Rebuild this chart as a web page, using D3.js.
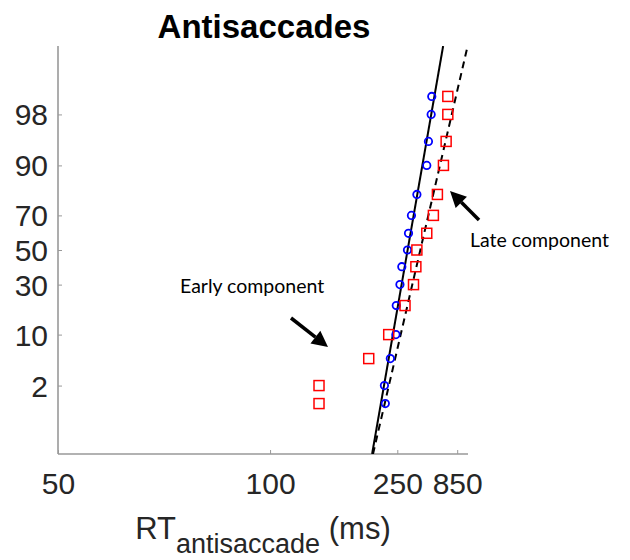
<!DOCTYPE html>
<html>
<head>
<meta charset="utf-8">
<script src="https://cdn.jsdelivr.net/npm/d3@7"></script>
<style>
  body { margin: 0; background: #fff; }
  svg { display: block; }
</style>
</head>
<body>
<div id="chart"></div>
<script>
// reciprobit plot: x is -1/RT, y is probit of cumulative %

const percentiles = [1, 2, 5, 10, 20, 30, 40, 50, 60, 70, 80, 90, 95, 98, 99];
const blueRT = [219, 217, 231, 246, 247, 258, 264, 284, 288, 300, 325, 383, 395, 416, 421];
const redRT  = [130, 130, 187, 227, 275, 309, 320, 325, 383, 435, 474, 548, 589, 618, 618];

// LATER fits: mu and sigma of 1/RT, in 1/s
const fitMu    = [3.514, 2.915];
const fitSigma = [0.542, 0.722];

const xTicks = [50, 100, 250, 850];
const yTicks = [2, 10, 30, 50, 70, 90, 98];

const W = 630, H = 560;
const mLeft = 58, mRight = 468, mTop = 46, mBottom = 454;

// inverse normal cdf (Acklam)
function probit(p) {
  const a = [-3.969683028665376e+01, 2.209460984245205e+02, -2.759285104469687e+02, 1.383577518672690e+02, -3.066479806614716e+01, 2.506628277459239e+00];
  const b = [-5.447609879822406e+01, 1.615858368580409e+02, -1.556989798598866e+02, 6.680131188771972e+01, -1.328068155288572e+01];
  const c = [-7.784894002430293e-03, -3.223964580411365e-01, -2.400758277161838e+00, -2.549732539343734e+00, 4.374664141464968e+00, 2.938163982698783e+00];
  const d = [7.784695709041462e-03, 3.224671290700398e-01, 2.445134137142996e+00, 3.754408661907416e+00];
  const pl = 0.02425;
  let q, r;
  if (p < pl) {
    q = Math.sqrt(-2 * Math.log(p));
    return (((((c[0]*q+c[1])*q+c[2])*q+c[3])*q+c[4])*q+c[5]) / ((((d[0]*q+d[1])*q+d[2])*q+d[3])*q+1);
  } else if (p <= 1 - pl) {
    q = p - 0.5; r = q * q;
    return (((((a[0]*r+a[1])*r+a[2])*r+a[3])*r+a[4])*r+a[5])*q / (((((b[0]*r+b[1])*r+b[2])*r+b[3])*r+b[4])*r+1);
  } else {
    q = Math.sqrt(-2 * Math.log(1 - p));
    return -(((((c[0]*q+c[1])*q+c[2])*q+c[3])*q+c[4])*q+c[5]) / ((((d[0]*q+d[1])*q+d[2])*q+d[3])*q+1);
  }
}

const zMin = probit(0.001), zMax = probit(0.999);

const x = d3.scaleLinear().domain([-1/50, -1/1500]).range([mLeft, mRight]);
const z = d3.scaleLinear().domain([zMin, zMax]).range([mBottom, mTop]);
const xr = rt => x(-1 / rt);
const yp = pc => z(probit(pc / 100));

const svg = d3.select('#chart').append('svg')
  .attr('width', W).attr('height', H)
  .attr('viewBox', `0 0 ${W} ${H}`);

svg.append('defs').append('clipPath').attr('id', 'plotclip')
  .append('rect').attr('x', mLeft).attr('y', mTop)
  .attr('width', mRight - mLeft).attr('height', mBottom - mTop);

const font = '"Liberation Sans", Arial, Helvetica, sans-serif';

// title
svg.append('text')
  .attr('x', (mLeft + mRight) / 2 + 1).attr('y', 38)
  .attr('text-anchor', 'middle')
  .style('font-family', font).style('font-weight', 'bold').style('font-size', '33px')
  .attr('fill', '#000')
  .text('Antisaccades');

// axes
const xAxis = d3.axisBottom(x)
  .tickValues(xTicks.map(t => -1 / t))
  .tickFormat((d, i) => xTicks[i])
  .tickSizeInner(-4).tickSizeOuter(0).tickPadding(19);
const yAxis = d3.axisLeft(z)
  .tickValues(yTicks.map(t => probit(t / 100)))
  .tickFormat((d, i) => yTicks[i])
  .tickSizeInner(-4).tickSizeOuter(0).tickPadding(10);

const gx = svg.append('g').attr('transform', `translate(0,${mBottom})`).call(xAxis);
const gy = svg.append('g').attr('transform', `translate(${mLeft},0)`).call(yAxis);
[gx, gy].forEach(g => {
  g.select('.domain').attr('stroke', '#999').attr('stroke-width', 1.6);
  g.selectAll('.tick line').attr('stroke', '#999').attr('stroke-width', 1);
  g.selectAll('.tick text')
    .style('font-family', font).style('font-size', '30px').attr('fill', '#262626');
});
gx.select('.domain').attr('d', `M${mLeft},0H${mRight}`);
gy.select('.domain').attr('d', `M0,${mBottom}V${mTop}`);
gx.selectAll('.tick text').attr('dy', '0.71em');
gy.selectAll('.tick text').attr('dy', '0.35em');

// x label
const xl = svg.append('text')
  .attr('x', (mLeft + mRight) / 2).attr('y', 539)
  .attr('text-anchor', 'middle')
  .style('font-family', font).style('font-size', '31px').attr('fill', '#262626');
xl.append('tspan').text('RT');
xl.append('tspan').attr('dy', 14).style('font-size', '27px').text('antisaccade');
xl.append('tspan').attr('dy', -14).text(' (ms)');

// fitted lines
const plot = svg.append('g').attr('clip-path', 'url(#plotclip)');
const fitLine = d3.line().x(d => x(d[0])).y(d => z(d[1]));
fitMu.forEach((mu, i) => {
  const pts = [zMin, zMax].map(zz => [-(mu - fitSigma[i] * zz) / 1000, zz]);
  plot.append('path')
    .attr('d', fitLine(pts))
    .attr('fill', 'none').attr('stroke', '#000').attr('stroke-width', 2)
    .attr('stroke-dasharray', i === 1 ? '7,5' : null);
});

// data markers
svg.append('g').selectAll('circle')
  .data(blueRT).join('circle')
  .attr('cx', d => xr(d))
  .attr('cy', (d, i) => yp(percentiles[i]))
  .attr('r', 3.7)
  .attr('fill', 'none').attr('stroke', '#0000ff').attr('stroke-width', 1.8);

const sq = 10;
svg.append('g').selectAll('rect')
  .data(redRT).join('rect')
  .attr('x', d => xr(d) - sq / 2)
  .attr('y', (d, i) => yp(percentiles[i]) - sq / 2)
  .attr('width', sq).attr('height', sq)
  .attr('fill', 'none').attr('stroke', '#ff0000').attr('stroke-width', 1.5);

// annotations
function arrow(x1, y1, x2, y2) {
  const ang = Math.atan2(y2 - y1, x2 - x1);
  const hl = 16, hw = 8;
  const bx = x2 - hl * Math.cos(ang), by = y2 - hl * Math.sin(ang);
  svg.append('line')
    .attr('x1', x1).attr('y1', y1).attr('x2', bx).attr('y2', by)
    .attr('stroke', '#000').attr('stroke-width', 3.5);
  const px = -Math.sin(ang), py = Math.cos(ang);
  svg.append('path')
    .attr('d', `M${x2},${y2}L${bx + px * hw},${by + py * hw}L${bx - px * hw},${by - py * hw}Z`)
    .attr('fill', '#000');
}
arrow(291, 318, 328, 347);
arrow(479, 220, 450, 191);

const annFont = 'Lato, "Open Sans", "Noto Sans", sans-serif';
svg.append('text').attr('x', 180).attr('y', 293)
  .style('font-family', annFont).style('font-size', '19.5px').attr('fill', '#000')
  .text('Early component');
svg.append('text').attr('x', 470).attr('y', 247)
  .style('font-family', annFont).style('font-size', '19.5px').attr('fill', '#000')
  .text('Late component');
</script>
</body>
</html>
